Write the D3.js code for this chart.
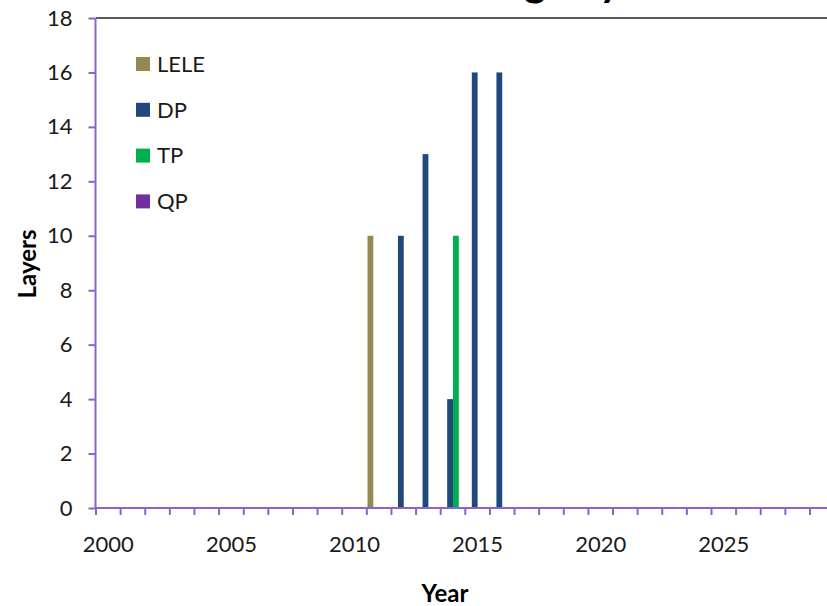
<!DOCTYPE html>
<html>
<head>
<meta charset="utf-8">
<script src="https://cdn.jsdelivr.net/npm/d3@7"></script>
<style>
  html, body { margin: 0; padding: 0; background: #fff; }
  svg { display: block; font-family: Lato, "Open Sans", sans-serif; }
</style>
</head>
<body>
<svg id="chart" width="827" height="606"></svg>
<script>
// Categories: one band per year
const years = [2000, 2001, 2002, 2003, 2004, 2005, 2006, 2007, 2008, 2009,
               2010, 2011, 2012, 2013, 2014, 2015, 2016, 2017, 2018, 2019,
               2020, 2021, 2022, 2023, 2024, 2025, 2026, 2027, 2028, 2029];

const seriesNames  = ["LELE", "DP", "TP", "QP"];
const seriesColors = ["#938953", "#1F497D", "#00B050", "#7030A0"];

// Layers per year for each patterning technique
const leleLayers = [0,0,0,0,0,0,0,0,0,0, 0,10,0,0,0,0,0,0,0,0, 0,0,0,0,0,0,0,0,0,0];
const dpLayers   = [0,0,0,0,0,0,0,0,0,0, 0,0,10,13,4,16,16,0,0,0, 0,0,0,0,0,0,0,0,0,0];
const tpLayers   = [0,0,0,0,0,0,0,0,0,0, 0,0,0,0,10,0,0,0,0,0, 0,0,0,0,0,0,0,0,0,0];
const qpLayers   = [0,0,0,0,0,0,0,0,0,0, 0,0,0,0,0,0,0,0,0,0, 0,0,0,0,0,0,0,0,0,0];

const yTicks = [0, 2, 4, 6, 8, 10, 12, 14, 16, 18];
const yearLabels = [2000, 2005, 2010, 2015, 2020, 2025];

const chartTitle = "Patterning Layers";
const xTitle = "Year";
const yTitle = "Layers";

const seriesValues = [leleLayers, dpLayers, tpLayers, qpLayers];
const rows = [];
seriesNames.forEach((name, si) => {
  seriesValues[si].forEach((v, i) => {
    rows.push({ year: years[i], series: name, value: v, color: seriesColors[si] });
  });
});

// Layout
const plotLeft = 96, plotTop = 18, plotBottom = 508;
const bandStep = 24.62;
const plotRight = plotLeft + bandStep * years.length;
const axisColor = "#8E62C9";

const svg = d3.select("#chart");

const x = d3.scaleBand().domain(years).range([plotLeft, plotRight]).padding(0);
const xInner = d3.scaleBand().domain(seriesNames).range([0, x.bandwidth()])
  .paddingInner(0).paddingOuter(0.12);
const y = d3.scaleLinear().domain([0, 18]).range([plotBottom, plotTop]);

// Title (sits mostly above the visible area)
const title = svg.append("text")
  .attr("y", -4)
  .attr("font-size", 42)
  .attr("font-weight", "bold")
  .attr("fill", "#000")
  .text(chartTitle);
const gIndex = chartTitle.indexOf("g");
let prefix = 0;
try { prefix = title.node().getSubStringLength(0, gIndex); } catch (e) { prefix = 230; }
title.attr("x", 524 - prefix);

// Plot area top border
svg.append("line")
  .attr("x1", plotLeft).attr("x2", plotRight)
  .attr("y1", y(18)).attr("y2", y(18))
  .attr("stroke", "#595959").attr("stroke-width", 2);

// Bars
svg.append("g").selectAll("rect")
  .data(rows.filter(d => d.value > 0))
  .join("rect")
  .attr("x", d => x(d.year) + xInner(d.series))
  .attr("width", xInner.bandwidth())
  .attr("y", d => y(d.value))
  .attr("height", d => y(0) - y(d.value))
  .attr("fill", d => d.color);

// Y axis
const yAxis = d3.axisLeft(y).tickValues(yTicks).tickSize(7).tickPadding(16);
const gy = svg.append("g").attr("transform", `translate(${plotLeft - 0.5},0)`).call(yAxis);
gy.select(".domain").remove();
gy.selectAll(".tick line").attr("stroke", axisColor).attr("stroke-width", 2);
gy.selectAll(".tick text").attr("font-size", 22).attr("fill", "#1a1a1a")
  .attr("font-family", "Lato, 'Open Sans', sans-serif");
svg.append("line")
  .attr("x1", plotLeft - 0.5).attr("x2", plotLeft - 0.5)
  .attr("y1", y(18)).attr("y2", y(0))
  .attr("stroke", axisColor).attr("stroke-width", 2);

// X axis: ticks on band boundaries, labels at every fifth band centre
const gx = svg.append("g");
gx.append("line")
  .attr("x1", plotLeft).attr("x2", plotRight)
  .attr("y1", y(0)).attr("y2", y(0))
  .attr("stroke", axisColor).attr("stroke-width", 2);
gx.selectAll("line.tick")
  .data(years.concat([null]))
  .join("line")
  .attr("class", "tick")
  .attr("x1", (d, i) => plotLeft + x.step() * i)
  .attr("x2", (d, i) => plotLeft + x.step() * i)
  .attr("y1", y(0)).attr("y2", y(0) + 7)
  .attr("stroke", axisColor).attr("stroke-width", 2);
gx.selectAll("text")
  .data(yearLabels)
  .join("text")
  .attr("x", d => x(d) + x.bandwidth() / 2)
  .attr("y", 552)
  .attr("text-anchor", "middle")
  .attr("font-size", 22)
  .attr("fill", "#1a1a1a")
  .text(d => d);

// Axis titles
svg.append("text")
  .attr("x", 445).attr("y", 602)
  .attr("text-anchor", "middle")
  .attr("font-size", 24).attr("font-weight", "bold")
  .text(xTitle);
svg.append("text")
  .attr("transform", "translate(36,264) rotate(-90)")
  .attr("text-anchor", "middle")
  .attr("font-size", 24).attr("font-weight", "bold")
  .text(yTitle);

// Legend
const legend = svg.append("g").selectAll("g")
  .data(seriesNames)
  .join("g")
  .attr("transform", (d, i) => `translate(136,${64 + i * 45.8})`);
legend.append("rect")
  .attr("x", 0).attr("y", -7)
  .attr("width", 14).attr("height", 14)
  .attr("fill", (d, i) => seriesColors[i]);
legend.append("text")
  .attr("x", 21).attr("y", 0)
  .attr("dy", "0.35em")
  .attr("font-size", 22)
  .attr("fill", "#1a1a1a")
  .text(d => d);
</script>
</body>
</html>
